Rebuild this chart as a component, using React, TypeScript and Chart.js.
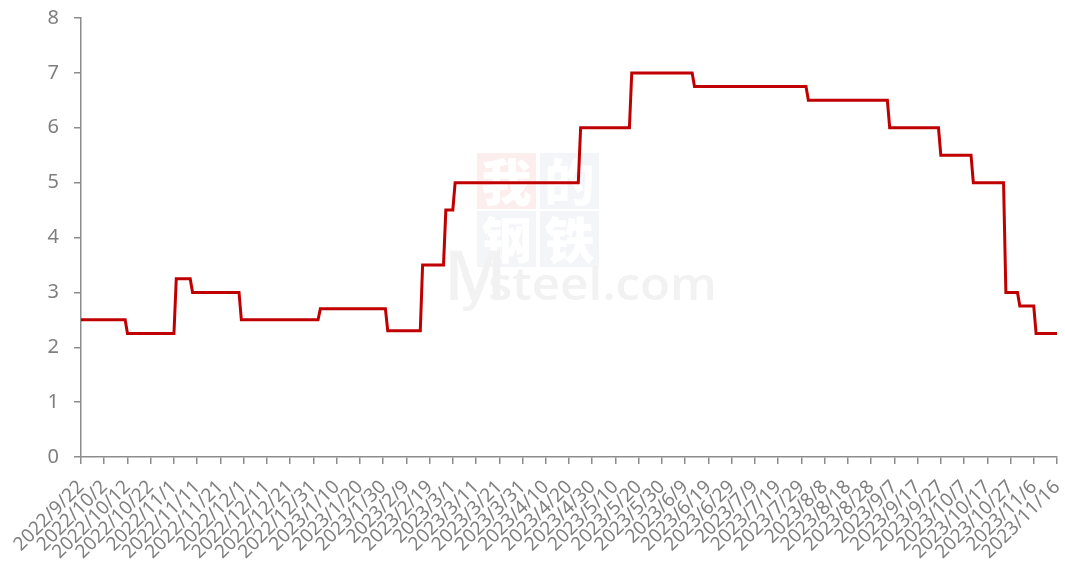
import React, { useEffect, useRef } from 'react';
import { Chart, registerables } from 'chart.js';

Chart.register(...registerables);

// X-axis tick labels (every 10 days)
const tickLabels = [
  '2022/9/22', '2022/10/2', '2022/10/12', '2022/10/22', '2022/11/1', '2022/11/11',
  '2022/11/21', '2022/12/1', '2022/12/11', '2022/12/21', '2022/12/31', '2023/1/10',
  '2023/1/20', '2023/1/30', '2023/2/9', '2023/2/19', '2023/3/1', '2023/3/11',
  '2023/3/21', '2023/3/31', '2023/4/10', '2023/4/20', '2023/4/30', '2023/5/10',
  '2023/5/20', '2023/5/30', '2023/6/9', '2023/6/19', '2023/6/29', '2023/7/9',
  '2023/7/19', '2023/7/29', '2023/8/8', '2023/8/18', '2023/8/28', '2023/9/7',
  '2023/9/17', '2023/9/27', '2023/10/7', '2023/10/17', '2023/10/27', '2023/11/6',
  '2023/11/16',
];

// Dates on which the value changes (first day of each new level)
const changeDates = [
  '2022/9/22', '2022/10/12', '2022/11/2', '2022/11/9', '2022/11/30', '2023/1/3',
  '2023/2/1', '2023/2/16', '2023/2/26', '2023/3/2', '2023/4/25', '2023/5/17',
  '2023/6/13', '2023/8/1', '2023/9/5', '2023/9/27', '2023/10/11', '2023/10/25',
  '2023/10/31', '2023/11/7',
];
// Value of each level
const rates = [
  2.5, 2.25, 3.25, 3, 2.5, 2.7,
  2.3, 3.5, 4.5, 5, 6, 7,
  6.75, 6.5, 6, 5.5, 5, 3,
  2.75, 2.25,
];
const endDate = '2023/11/16';

const yTicks = [0, 1, 2, 3, 4, 5, 6, 7, 8];

function toUTC(s: string) {
  const [y, m, d] = s.split('/').map(Number);
  return Date.UTC(y, m - 1, d);
}
function dayIndex(s: string) {
  return Math.round((toUTC(s) - toUTC(changeDates[0])) / 86400000);
}

function buildPoints() {
  const pts: { x: number; y: number }[] = [];
  for (let i = 0; i < changeDates.length; i++) {
    const start = dayIndex(changeDates[i]);
    const end = i < changeDates.length - 1 ? dayIndex(changeDates[i + 1]) - 1 : dayIndex(endDate);
    pts.push({ x: start, y: rates[i] });
    pts.push({ x: end, y: rates[i] });
  }
  return pts;
}

const watermarkPlugin = {
  id: 'watermark',
  beforeDatasetsDraw(chart: any) {
    const ctx = chart.ctx as CanvasRenderingContext2D;
    ctx.save();
    const boxes = [
      { x: 477, y: 153, c: '#fdeeee', t: '我' },
      { x: 540, y: 153, c: '#f4f5f9', t: '的' },
      { x: 477, y: 211, c: '#f4f5f9', t: '钢' },
      { x: 540, y: 211, c: '#f4f5f9', t: '铁' },
    ];
    ctx.textAlign = 'center';
    ctx.textBaseline = 'middle';
    ctx.font = '900 50px "Noto Sans CJK SC"';
    for (const b of boxes) {
      ctx.fillStyle = b.c;
      ctx.fillRect(b.x, b.y, 59, 56);
      ctx.fillStyle = '#ffffff';
      ctx.fillText(b.t, b.x + 29.5, b.y + 29);
    }
    ctx.fillStyle = '#f2f2f2';
    ctx.textAlign = 'left';
    ctx.textBaseline = 'alphabetic';
    ctx.font = '600 68px "Open Sans"';
    ctx.fillText('M', 444, 300);
    ctx.font = '600 46px "Open Sans"';
    const txt = 'ysteel.com';
    const w = ctx.measureText(txt).width;
    ctx.translate(462, 300);
    ctx.scale(255 / w, 1);
    ctx.fillText(txt, 0, 0);
    ctx.restore();
  },
};

export default function App() {
  const ref = useRef<HTMLCanvasElement>(null);
  useEffect(() => {
    if (!ref.current) return;
    const axisColor = '#8c8c8c';
    const textColor = '#7f7f7f';
    const chart = new Chart(ref.current, {
      type: 'line',
      data: {
        datasets: [
          {
            data: buildPoints(),
            borderColor: '#C00000',
            borderWidth: 3,
            pointRadius: 0,
            tension: 0,
            fill: false,
          },
        ],
      },
      options: {
        animation: false,
        responsive: false,
        devicePixelRatio: 1,
        layout: { padding: { top: 18, right: 8, left: 0, bottom: 0 } },
        plugins: { legend: { display: false }, tooltip: { enabled: false } },
        scales: {
          x: {
            type: 'linear',
            min: 0,
            max: dayIndex(endDate),
            afterFit: (s: any) => {
              s.height = 117;
              s.paddingLeft = 0;
              s.paddingRight = 0;
              s.paddingTop = 0;
              s.paddingBottom = 0;
            },
            afterBuildTicks: (s: any) => {
              s.ticks = tickLabels.map((_, i) => ({ value: i * 10 }));
            },
            ticks: {
              autoSkip: false,
              maxRotation: 45,
              minRotation: 45,
              padding: 12,
              color: textColor,
              font: { family: '"Noto Sans"', size: 19 },
              callback: (v: any) => tickLabels[Math.round(Number(v) / 10)] ?? '',
            },
            grid: { drawOnChartArea: false, drawTicks: true, tickLength: 7, color: axisColor, lineWidth: 1.5 },
            border: { display: true, color: axisColor, width: 1.5 },
          },
          y: {
            min: 0,
            max: 8,
            afterFit: (s: any) => {
              s.width = 81;
              s.paddingLeft = 0;
              s.paddingRight = 0;
              s.paddingTop = 0;
              s.paddingBottom = 0;
            },
            afterBuildTicks: (s: any) => {
              s.ticks = yTicks.map((v) => ({ value: v }));
            },
            ticks: {
              padding: 15,
              color: textColor,
              font: { family: '"Noto Sans"', size: 20 },
            },
            grid: { drawOnChartArea: false, drawTicks: true, tickLength: 7, color: axisColor, lineWidth: 1.5 },
            border: { display: true, color: axisColor, width: 1.5 },
          },
        },
      },
      plugins: [watermarkPlugin],
    });
    return () => chart.destroy();
  }, []);
  return (
    <div style={{ position: 'fixed', left: 0, top: 0, width: 1065, height: 574, background: '#ffffff' }}>
      <canvas ref={ref} width={1065} height={574} style={{ width: 1065, height: 574 }} />
    </div>
  );
}
